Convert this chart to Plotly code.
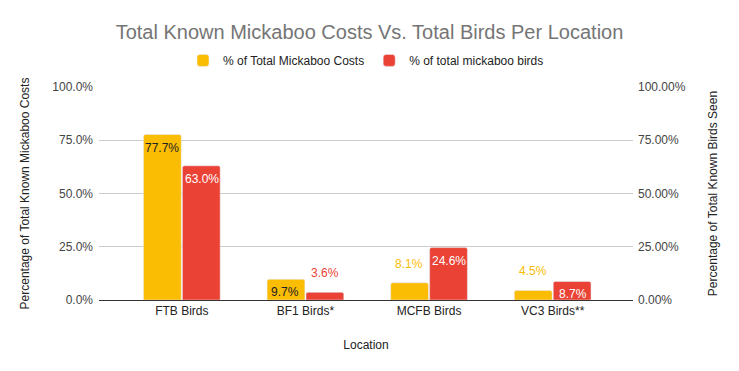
import plotly.graph_objects as go

categories = ["FTB Birds", "BF1 Birds*", "MCFB Birds", "VC3 Birds**"]
costs = [0.777, 0.097, 0.081, 0.045]
birds = [0.630, 0.036, 0.246, 0.087]
cost_labels = ["77.7%", "9.7%", "8.1%", "4.5%"]
bird_labels = ["63.0%", "3.6%", "24.6%", "8.7%"]

YEL = "#FBBC04"
RED = "#EA4335"
FONT = "Liberation Sans, Arial, sans-serif"

# label placement: inside (True) or above (False) the bar
cost_inside = [True, True, False, False]
bird_inside = [True, False, True, True]

fig = go.Figure()
fig.add_trace(go.Bar(
    x=categories, y=costs, name="% of Total Mickaboo Costs",
    marker=dict(color=YEL, cornerradius=2), offsetgroup="a",
    yaxis="y", hoverinfo="skip",
))
fig.add_trace(go.Bar(
    x=categories, y=birds, name="% of total mickaboo birds",
    marker=dict(color=RED, cornerradius=2), offsetgroup="b",
    yaxis="y2", hoverinfo="skip",
))

annotations = []
for cat, val, lab, ins in zip(categories, costs, cost_labels, cost_inside):
    annotations.append(dict(
        x=cat, y=val, xref="x", yref="y", text=lab, showarrow=False,
        xshift=-20, yshift=-13 if ins else 19, yanchor="middle",
        font=dict(size=12, family=FONT, color="#202124" if ins else YEL)))
for cat, val, lab, ins in zip(categories, birds, bird_labels, bird_inside):
    annotations.append(dict(
        x=cat, y=val, xref="x", yref="y2", text=lab, showarrow=False,
        xshift=20, yshift=-13 if ins else 19, yanchor="middle",
        font=dict(size=12, family=FONT, color="#ffffff" if ins else RED)))

fig.update_layout(
    width=739, height=371,
    margin=dict(l=99, r=106, t=87, b=71, autoexpand=False),
    paper_bgcolor="white", plot_bgcolor="white",
    font=dict(family=FONT, size=12, color="#222222"),
    title=dict(text="Total Known Mickaboo Costs Vs. Total Birds Per Location",
               x=0.5, xanchor="center", y=0.915, yanchor="middle",
               font=dict(size=20, color="#757575", family=FONT)),
    legend=dict(orientation="h", x=0.5, xanchor="center", y=1.125, yanchor="middle",
                font=dict(size=12, color="#222222"), itemwidth=30),
    barmode="group", bargap=0.37, bargroupgap=0.03,
    annotations=annotations,
    xaxis=dict(range=[-0.67, 3.65], showgrid=False, showline=False, ticks="",
               automargin=False, ticklabelstandoff=2,
               tickfont=dict(size=12, color="#222222"),
               title=dict(text="Location", font=dict(size=12, color="#222222"), standoff=23)),
    yaxis=dict(range=[0, 1], tickvals=[0, 0.25, 0.5, 0.75, 1.0],
               ticktext=["0.0%", "25.0%", "50.0%", "75.0%", "100.0%"],
               automargin=False,
               gridcolor="#cccccc", zeroline=True, zerolinecolor="#333333", zerolinewidth=1,
               tickfont=dict(size=12, color="#444444"), ticklabelstandoff=5,
               title=dict(text="Percentage of Total Known Mickaboo Costs",
                          font=dict(size=12, color="#222222"), standoff=20)),
    yaxis2=dict(range=[0, 1], overlaying="y", side="right",
                tickvals=[0, 0.25, 0.5, 0.75, 1.0],
                ticktext=["0.00%", "25.00%", "50.00%", "75.00%", "100.00%"],
                automargin=False,
                showgrid=False, zeroline=False,
                tickfont=dict(size=12, color="#444444"), ticklabelstandoff=4,
                title=dict(text="Percentage of Total Known Birds Seen",
                           font=dict(size=12, color="#222222"), standoff=23)),
)

fig.write_html("out.html", config={"displayModeBar": False},
               post_script="document.body.style.margin='0';")
